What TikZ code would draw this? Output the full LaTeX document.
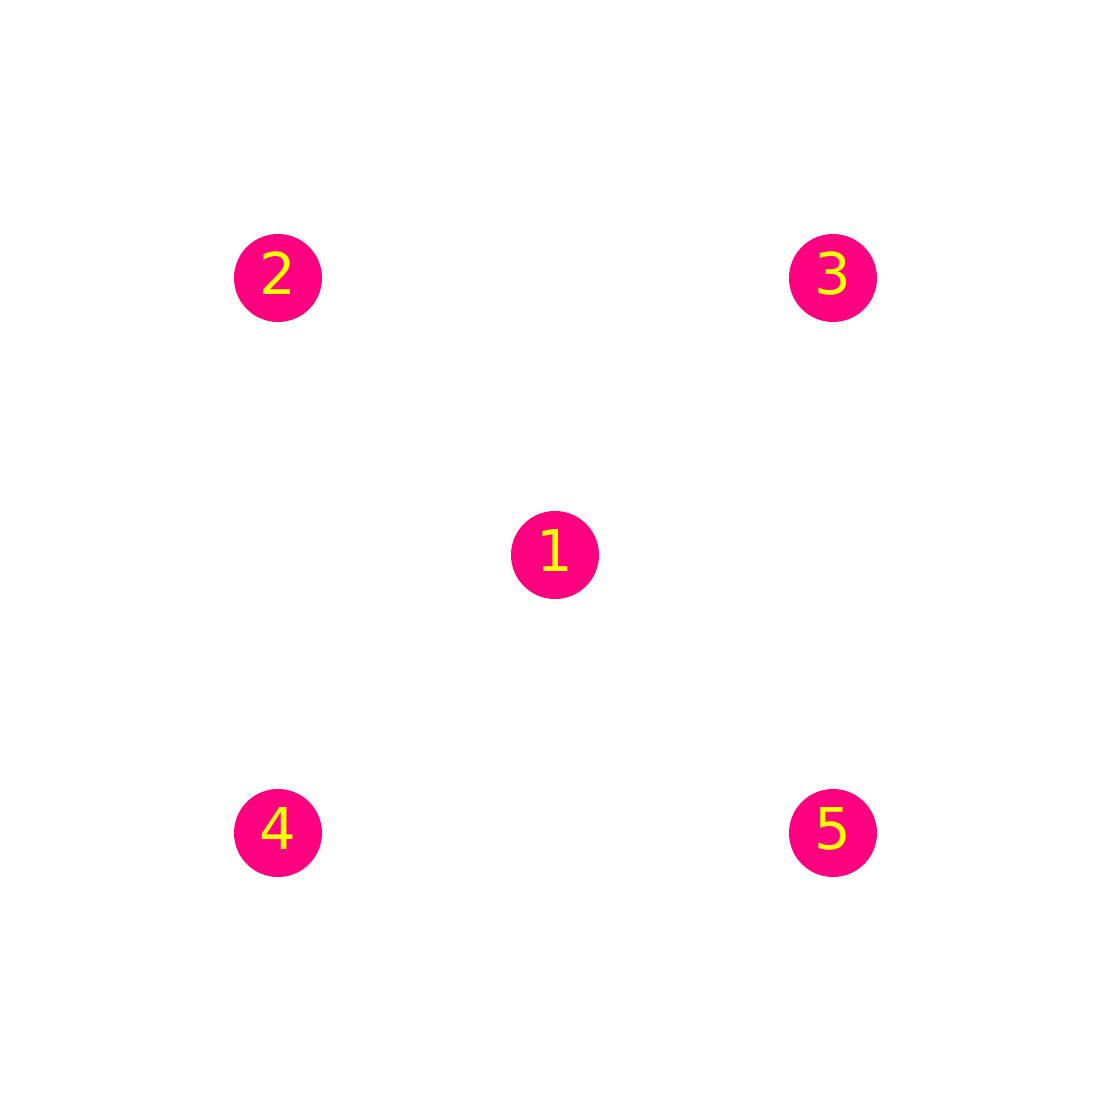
\documentclass[tikz,border=0pt]{standalone}
\usepackage{xcolor}
\usepackage{tikz}
\usepackage{fontspec}
\setmainfont{DejaVu Sans}
\usetikzlibrary{
    positioning
}

\definecolor{dotpink}{RGB}{255,0,128}
\definecolor{dotyellow}{RGB}{255,255,0}

\begin{document}
\begin{tikzpicture}[
dot/.style={
circle,
fill=dotpink,
minimum size=0.88cm,
inner sep=0pt,
text depth=0.1cm,
text=dotyellow,
font=\fontsize{16.4}{16.4}\selectfont
}
]

\useasboundingbox (0,0) rectangle (11.1,11.1);

\node[dot] (one) at (5.55,5.55) {1};

\node[dot] (two) at (2.78,8.32) {2};

\node[dot] (three) at (8.33,8.32) {3};

\node[dot] (four) at (2.78,2.77) {4};

\node[dot] (five) at (8.33,2.77) {5};

\end{tikzpicture}
\end{document}
